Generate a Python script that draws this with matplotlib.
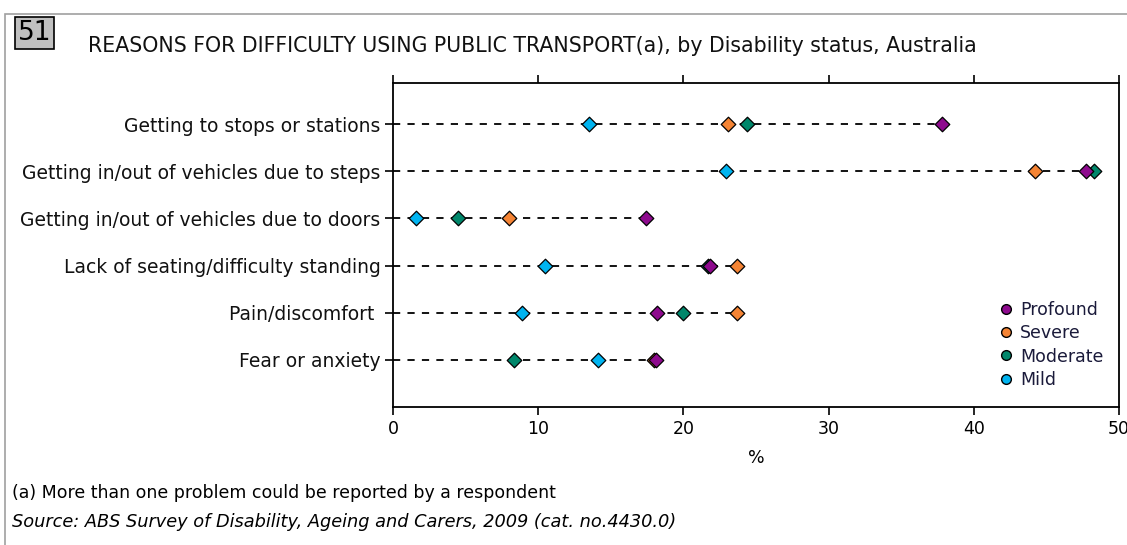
import numpy as np
import matplotlib.pyplot as plt
from matplotlib.patches import Rectangle
from matplotlib.lines import Line2D

reasons = ["Getting to stops or stations",
           "Getting in/out of vehicles due to steps",
           "Getting in/out of vehicles due to doors",
           "Lack of seating/difficulty standing",
           "Pain/discomfort ",
           "Fear or anxiety"]
mild = [13.5, 22.9, 1.6, 10.5, 8.9, 14.1]
moderate = [24.4, 48.3, 4.5, 21.7, 20.0, 8.3]
severe = [23.1, 44.2, 8.0, 23.7, 23.7, 18.0]
profound = [37.8, 47.7, 17.4, 21.8, 18.2, 18.1]

series = ["Profound", "Severe", "Moderate", "Mild"]
colors = {"Profound": "#8e0a8e", "Severe": "#f58434",
          "Moderate": "#00876b", "Mild": "#00b4f0"}
values = {"Profound": profound, "Severe": severe,
          "Moderate": moderate, "Mild": mild}

fig = plt.figure(figsize=(11.27, 5.45), dpi=100)
plt.rcParams['font.family'] = 'DejaVu Sans'

# outer grey frame (open at right and bottom like the source crop)
fig.patches.append(Rectangle((5/1127, -0.1), 1.2, 1.1 - 14/545, transform=fig.transFigure,
                             fill=False, edgecolor='#a0a0a0', linewidth=1.2))

ax = fig.add_axes([393/1127, 1 - 407/545, 726/1127, 324/545])
y = np.arange(len(reasons))

# dashed guide lines from zero to the largest value in each row
row_max = np.max([mild, moderate, severe, profound], axis=0)
for yi, m in zip(y, row_max):
    ax.plot([0, m], [yi, yi], color='black', linestyle=(0, (4, 4)), linewidth=1.3, zorder=1)

for name in ["Mild", "Severe", "Moderate", "Profound"]:
    ax.scatter(values[name], y, marker='D', s=55, color=colors[name],
               edgecolor='black', linewidth=0.9, zorder=3)

ax.set_xlim(0, 50)
ax.set_ylim(6, -0.87)
ax.set_yticks(y)
ax.set_yticklabels(reasons, fontsize=13.5, color='#111111')
ax.set_xticks([0, 10, 20, 30, 40, 50])
ax.tick_params(axis='x', labelsize=12.5, length=6, width=1.2, top=True, direction='out')
ax.tick_params(axis='y', length=6, width=1.2, pad=3)
for s in ax.spines.values():
    s.set_linewidth(1.3)
ax.set_xlabel("%", fontsize=12.5, labelpad=8)

handles = [Line2D([], [], marker='o', linestyle='none', markersize=7,
                  markerfacecolor=colors[n], markeredgecolor='black', markeredgewidth=1.0)
           for n in series]
ax.legend(handles, series, loc='lower right', bbox_to_anchor=(1.0, 0.008), frameon=False,
          fontsize=12.5, handletextpad=0.2, labelspacing=0.3, handlelength=1.2,
          labelcolor='#1a1a3a')

# chart number box and title
fig.text(18/1127, 1 - 33/545, "51", fontsize=19, va='center', ha='left',
         bbox=dict(boxstyle='square,pad=0.1', facecolor='#c0c0c0', edgecolor='black', linewidth=1.2))
fig.text(88/1127, 1 - 46/545, "REASONS FOR DIFFICULTY USING PUBLIC TRANSPORT(a), by Disability status, Australia",
         fontsize=14.8, va='center', ha='left', color='#111111')

fig.text(12/1127, 1 - 493/545, "(a) More than one problem could be reported by a respondent",
         fontsize=12.5, va='center', ha='left')
fig.text(12/1127, 1 - 522/545, "Source: ABS Survey of Disability, Ageing and Carers, 2009 (cat. no.4430.0)",
         fontsize=12.8, va='center', ha='left', style='italic')

fig.savefig("out.png", dpi=100)
